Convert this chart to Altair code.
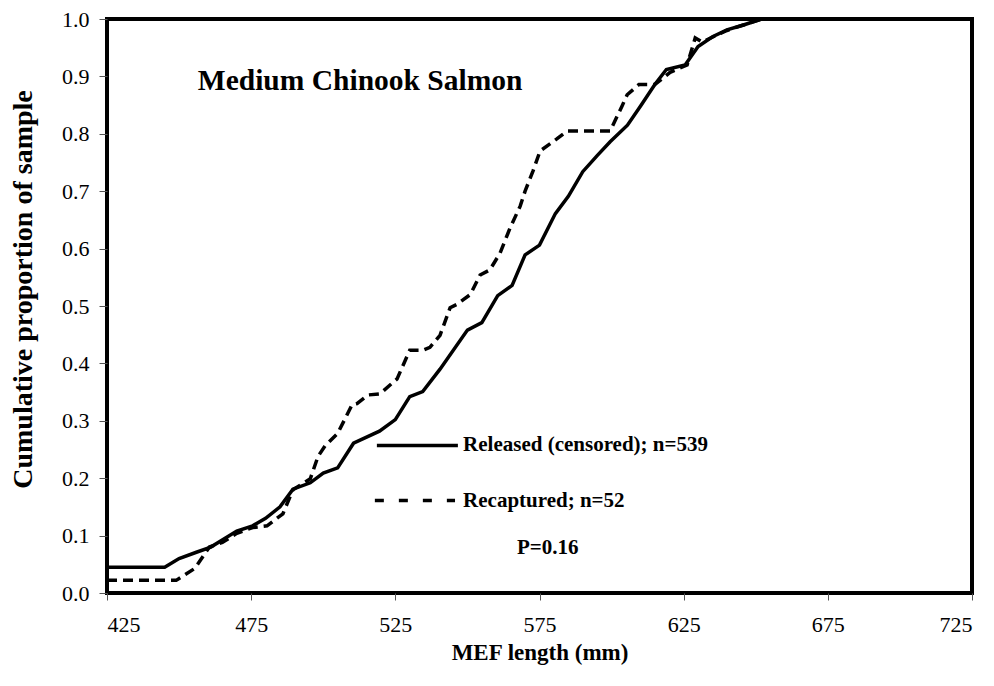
import altair as alt
import pandas as pd

# Released (censored) cumulative curve
rel_len = [425, 445, 450, 456, 461, 470, 475.5, 480, 485, 489.5, 495.5, 500, 505, 510.5,
           519.5, 525, 530, 534.5, 540.5, 550, 555, 560.5, 565.5, 570, 575, 580.5, 585,
           590, 595, 599.5, 605.5, 610, 615, 619, 625.5, 630, 635, 640, 646, 652, 725]
rel_cum = [0.045, 0.045, 0.06, 0.071, 0.08, 0.108, 0.117, 0.13, 0.15, 0.181, 0.192, 0.209,
           0.218, 0.261, 0.282, 0.302, 0.342, 0.351, 0.39, 0.458, 0.471, 0.518, 0.536,
           0.589, 0.606, 0.661, 0.691, 0.734, 0.762, 0.786, 0.815, 0.848, 0.886, 0.912,
           0.92, 0.952, 0.969, 0.981, 0.99, 1.0, 1.0]

# Recaptured cumulative curve
rec_len = [425, 449, 455.5, 460.5, 465, 470, 475.5, 480.5, 486, 489.5, 495.5, 498.2, 500.6,
           505, 510, 511.7, 515.5, 519.7, 525.6, 530, 534.6, 537, 540.5, 544, 546.4, 551,
           554.4, 557.8, 561.3, 564.8, 568.3, 570, 572.8, 575.2, 581, 584.6, 599.5, 603.6,
           605.4, 609.5, 615, 620.3, 626.2, 629, 631.4, 640, 646, 652, 725]
rec_cum = [0.022, 0.022, 0.043, 0.08, 0.088, 0.104, 0.114, 0.117, 0.138, 0.18, 0.199, 0.238,
           0.256, 0.278, 0.328, 0.33, 0.345, 0.347, 0.373, 0.423, 0.423, 0.428, 0.449, 0.497,
           0.503, 0.52, 0.554, 0.563, 0.592, 0.636, 0.674, 0.7, 0.736, 0.77, 0.791, 0.805,
           0.805, 0.848, 0.868, 0.886, 0.886, 0.907, 0.92, 0.967, 0.96, 0.98, 0.99, 1.0, 1.0]

x_ticks = [425, 475, 525, 575, 625, 675, 725]
y_ticks = [0.0, 0.1, 0.2, 0.3, 0.4, 0.5, 0.6, 0.7, 0.8, 0.9, 1.0]

title_text = ["Medium Chinook Salmon"]
legend_labels = ["Released (censored); n=539", "Recaptured; n=52"]
p_text = ["P=0.16"]

FONT = "'Liberation Serif', 'Times New Roman', Times, serif"

rel = pd.DataFrame({"len": rel_len, "cum": rel_cum})
rec = pd.DataFrame({"len": rec_len, "cum": rec_cum})

xscale = alt.Scale(domain=[425, 725], nice=False, zero=False)
yscale = alt.Scale(domain=[0, 1], nice=False)

xenc = alt.X("len:Q", scale=xscale,
             axis=alt.Axis(values=x_ticks, title="MEF length (mm)", format="d"))
yenc = alt.Y("cum:Q", scale=yscale,
             axis=alt.Axis(values=y_ticks, title="Cumulative proportion of sample", format=".1f",
                           titleY=270))

solid = alt.Chart(rel).mark_line(color="black", strokeWidth=3.5).encode(x=xenc, y=yenc)
dashed = alt.Chart(rec).mark_line(color="black", strokeWidth=3.5, strokeDash=[10, 6]).encode(x=xenc, y=yenc)

# annotation anchors in data space
title_df = pd.DataFrame({"len": [456.5], "cum": [0.877], "t": title_text})
title_mark = alt.Chart(title_df).mark_text(font=FONT, fontSize=29.5, fontWeight="bold",
                                          align="left", baseline="alphabetic", color="black").encode(
    x=alt.X("len:Q", scale=xscale), y=alt.Y("cum:Q", scale=yscale), text="t:N")

leg_lines = pd.DataFrame({"x1": [518.6, 517.9], "x2": [546.7, 545.7], "cum": [0.257, 0.161],
                          "kind": ["solid", "dashed"]})
leg_solid = alt.Chart(leg_lines[leg_lines.kind == "solid"]).mark_rule(color="black", strokeWidth=3.5).encode(
    x=alt.X("x1:Q", scale=xscale), x2="x2:Q", y=alt.Y("cum:Q", scale=yscale))
leg_dash = alt.Chart(leg_lines[leg_lines.kind == "dashed"]).mark_rule(color="black", strokeWidth=3.5,
                                                                      strokeDash=[9, 15]).encode(
    x=alt.X("x1:Q", scale=xscale), x2="x2:Q", y=alt.Y("cum:Q", scale=yscale))

leg_text_df = pd.DataFrame({"len": [548.5, 548.5, 567.2], "cum": [0.257, 0.161, 0.079],
                            "t": legend_labels + p_text})
leg_text = alt.Chart(leg_text_df).mark_text(font=FONT, fontSize=21, fontWeight="bold",
                                            align="left", baseline="middle", color="black").encode(
    x=alt.X("len:Q", scale=xscale), y=alt.Y("cum:Q", scale=yscale), text="t:N")

chart = alt.layer(solid, dashed, leg_solid, leg_dash, leg_text, title_mark).properties(
    width=865, height=574,
    autosize=alt.AutoSizeParams(type="none"),
    padding={"left": 99, "top": 11, "right": 14, "bottom": 85},
).configure_view(
    stroke="black", strokeWidth=4
).configure_axis(
    grid=False, domain=False,
    labelFont=FONT, labelFontSize=22, labelColor="black",
    tickColor="#555555", tickWidth=1,
    titleFont=FONT, titleFontWeight="bold", titleColor="black",
).configure_axisX(
    tickSize=7, labelPadding=14, titleFontSize=23, titlePadding=6,
).configure_axisY(
    tickSize=8, labelPadding=10, titleFontSize=28, titlePadding=24,
)

chart.save("out.html", embed_options={"renderer": "svg", "actions": False})
